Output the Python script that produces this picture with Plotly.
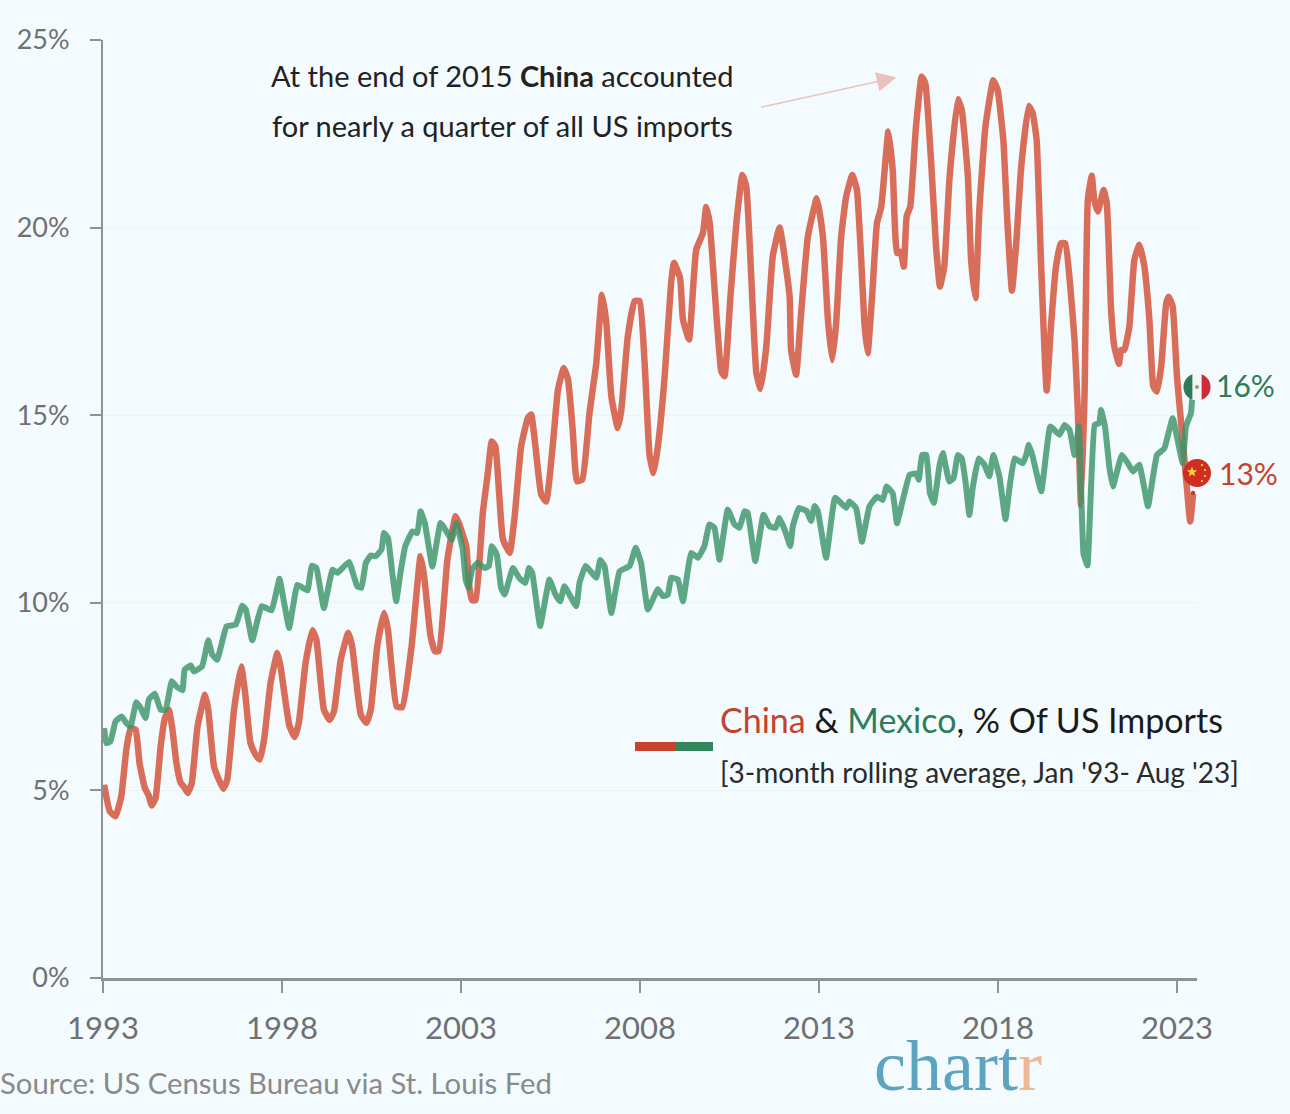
import numpy as np
import plotly.graph_objects as go

# turning points of each series (decimal year, % of US imports)
china_year = [
    1993.03, 1993.19, 1993.35, 1993.51, 1993.65, 1993.77, 1993.91, 1994.02, 1994.17, 1994.27,
    1994.36, 1994.47, 1994.61, 1994.73, 1994.84, 1994.94, 1995.05, 1995.17, 1995.26, 1995.37,
    1995.48, 1995.64, 1995.85, 1995.94, 1996.10, 1996.24, 1996.36, 1996.47, 1996.66, 1996.86,
    1996.97, 1997.12, 1997.26, 1997.38, 1997.50, 1997.68, 1997.87, 1997.96, 1998.20, 1998.35,
    1998.47, 1998.66, 1998.85, 1998.96, 1999.17, 1999.33, 1999.45, 1999.64, 1999.85, 1999.96,
    2000.20, 2000.36, 2000.48, 2000.66, 2000.85, 2000.96, 2001.20, 2001.36, 2001.62, 2001.87,
    2001.97, 2002.15, 2002.27, 2002.38, 2002.62, 2002.85, 2002.94, 2003.15, 2003.22, 2003.31,
    2003.41, 2003.61, 2003.75, 2003.86, 2003.96, 2004.06, 2004.17, 2004.36, 2004.50, 2004.68,
    2004.87, 2004.96, 2005.08, 2005.24, 2005.38, 2005.57, 2005.71, 2005.87, 2005.99, 2006.12,
    2006.24, 2006.39, 2006.59, 2006.78, 2006.94, 2007.06, 2007.20, 2007.38, 2007.48, 2007.66,
    2007.85, 2007.99, 2008.13, 2008.27, 2008.38, 2008.50, 2008.69, 2008.87, 2008.95, 2009.12,
    2009.20, 2009.37, 2009.57, 2009.76, 2009.85, 2009.95, 2010.27, 2010.36, 2010.53, 2010.70,
    2010.86, 2010.97, 2011.25, 2011.37, 2011.53, 2011.71, 2011.90, 2012.18, 2012.22, 2012.36,
    2012.50, 2012.69, 2012.94, 2013.11, 2013.25, 2013.37, 2013.48, 2013.62, 2013.76, 2013.93,
    2014.06, 2014.18, 2014.27, 2014.36, 2014.49, 2014.62, 2014.74, 2014.94, 2015.06, 2015.18,
    2015.28, 2015.37, 2015.45, 2015.55, 2015.71, 2015.87, 2015.97, 2016.13, 2016.27, 2016.38,
    2016.50, 2016.65, 2016.88, 2016.99, 2017.16, 2017.25, 2017.37, 2017.48, 2017.65, 2017.87,
    2017.99, 2018.15, 2018.27, 2018.39, 2018.51, 2018.65, 2018.86, 2018.97, 2019.08, 2019.20,
    2019.36, 2019.48, 2019.62, 2019.76, 2019.88, 2020.02, 2020.14, 2020.23, 2020.32, 2020.42,
    2020.51, 2020.62, 2020.69, 2020.79, 2020.95, 2021.04, 2021.16, 2021.25, 2021.38, 2021.44,
    2021.53, 2021.67, 2021.81, 2021.95, 2022.09, 2022.23, 2022.34, 2022.44, 2022.56, 2022.70,
    2022.77, 2022.88, 2023.00, 2023.16, 2023.25, 2023.37, 2023.45,
]
china_pct = [
    5.15, 4.44, 4.31, 4.84, 6.08, 6.66, 6.62, 5.73, 5.06, 4.88,
    4.60, 4.80, 6.17, 6.93, 7.15, 6.62, 5.73, 5.20, 5.10, 4.93,
    5.20, 6.70, 7.55, 7.15, 5.64, 5.28, 5.04, 5.28, 7.15, 8.30,
    7.60, 6.26, 5.95, 5.82, 6.35, 7.86, 8.66, 8.30, 6.75, 6.42,
    6.80, 8.40, 9.27, 9.02, 7.15, 6.88, 7.10, 8.48, 9.20, 8.84,
    7.02, 6.80, 7.15, 8.84, 9.73, 9.28, 7.24, 7.22, 8.84, 11.24,
    10.71, 9.11, 8.71, 8.71, 11.15, 12.31, 12.13, 11.50, 10.50, 10.07,
    10.07, 12.40, 13.46, 14.30, 14.17, 13.00, 11.70, 11.33, 12.31, 14.17,
    14.93, 15.02, 14.17, 12.89, 12.70, 14.26, 15.68, 16.26, 15.95, 14.62,
    13.24, 13.29, 15.06, 16.39, 18.21, 17.46, 15.50, 14.66, 15.15, 17.10,
    18.04, 18.04, 16.39, 13.91, 13.46, 14.17, 16.04, 18.53, 19.06, 18.66,
    17.55, 17.02, 19.41, 19.86, 20.55, 20.10, 16.17, 16.04, 18.20, 20.20,
    21.40, 21.10, 16.13, 15.70, 16.84, 19.24, 20.00, 18.17, 16.75, 16.08,
    17.70, 19.76, 20.78, 19.76, 17.54, 16.47, 17.45, 19.76, 20.83, 21.40,
    21.00, 19.14, 17.45, 16.65, 18.25, 20.12, 20.56, 22.56, 21.54, 19.32,
    19.36, 18.96, 20.30, 20.56, 22.69, 24.02, 23.85, 21.80, 19.50, 18.43,
    18.96, 21.36, 23.42, 23.13, 21.36, 19.14, 18.12, 20.47, 22.69, 23.93,
    23.67, 22.34, 20.03, 18.32, 19.58, 21.63, 23.24, 23.05, 22.34, 19.14,
    15.66, 17.36, 18.96, 19.58, 19.58, 18.43, 17.00, 15.14, 12.61, 15.59,
    20.74, 21.38, 20.74, 20.43, 21.00, 20.65, 17.81, 16.83, 16.37, 16.74,
    16.74, 17.36, 19.14, 19.54, 18.96, 17.54, 15.76, 15.63, 16.30, 17.98,
    18.16, 17.90, 16.03, 14.34, 13.37, 12.17, 12.90,
]
mexico_year = [
    1993.03, 1993.09, 1993.21, 1993.35, 1993.52, 1993.65, 1993.77, 1993.93, 1994.05, 1994.19,
    1994.28, 1994.45, 1994.61, 1994.75, 1994.92, 1995.05, 1995.22, 1995.28, 1995.45, 1995.54,
    1995.77, 1995.94, 1996.05, 1996.19, 1996.45, 1996.71, 1996.89, 1996.99, 1997.17, 1997.43,
    1997.71, 1997.93, 1998.06, 1998.20, 1998.43, 1998.71, 1998.83, 1998.96, 1999.17, 1999.41,
    1999.55, 1999.87, 2000.10, 2000.22, 2000.34, 2000.48, 2000.62, 2000.78, 2000.85, 2000.96,
    2001.08, 2001.19, 2001.31, 2001.44, 2001.64, 2001.78, 2001.87, 2001.99, 2002.20, 2002.43,
    2002.62, 2002.74, 2002.87, 2003.05, 2003.13, 2003.21, 2003.31, 2003.47, 2003.66, 2003.78,
    2003.86, 2004.00, 2004.12, 2004.22, 2004.45, 2004.62, 2004.80, 2004.90, 2004.99, 2005.21,
    2005.47, 2005.64, 2005.77, 2005.89, 2006.22, 2006.31, 2006.48, 2006.78, 2006.89, 2007.01,
    2007.20, 2007.43, 2007.71, 2007.88, 2008.03, 2008.22, 2008.50, 2008.64, 2008.78, 2008.87,
    2009.06, 2009.20, 2009.43, 2009.62, 2009.80, 2009.94, 2010.08, 2010.22, 2010.45, 2010.64,
    2010.78, 2010.92, 2011.01, 2011.22, 2011.45, 2011.62, 2011.79, 2011.90, 2012.04, 2012.20,
    2012.27, 2012.44, 2012.66, 2012.78, 2012.88, 2012.97, 2013.20, 2013.45, 2013.76, 2013.85,
    2014.04, 2014.20, 2014.41, 2014.62, 2014.78, 2014.89, 2015.06, 2015.18, 2015.30, 2015.53,
    2015.71, 2015.79, 2015.88, 2016.00, 2016.10, 2016.21, 2016.37, 2016.46, 2016.64, 2016.76,
    2016.88, 2016.99, 2017.11, 2017.20, 2017.30, 2017.46, 2017.62, 2017.76, 2017.87, 2018.04,
    2018.21, 2018.32, 2018.46, 2018.69, 2018.79, 2018.86, 2018.97, 2019.21, 2019.46, 2019.72,
    2019.86, 2020.00, 2020.14, 2020.26, 2020.39, 2020.50, 2020.70, 2020.83, 2020.88, 2020.99,
    2021.11, 2021.21, 2021.46, 2021.63, 2021.77, 2021.95, 2022.19, 2022.44, 2022.65, 2022.88,
    2023.16, 2023.25, 2023.39, 2023.42, 2023.45,
]
mexico_pct = [
    6.66, 6.26, 6.31, 6.84, 6.97, 6.80, 6.71, 7.35, 7.20, 6.93,
    7.42, 7.58, 7.15, 7.15, 7.91, 7.77, 7.67, 8.22, 8.33, 8.17,
    8.31, 9.00, 8.62, 8.48, 9.37, 9.42, 9.92, 9.82, 9.00, 9.91,
    9.80, 10.64, 10.00, 9.33, 10.48, 10.33, 10.99, 10.93, 9.86, 10.88,
    10.80, 11.09, 10.44, 10.40, 11.06, 11.26, 11.24, 11.42, 11.86, 11.73,
    10.80, 10.04, 10.80, 11.50, 11.90, 11.86, 12.44, 12.13, 10.97, 12.13,
    11.86, 11.68, 12.13, 11.42, 10.62, 10.40, 10.89, 11.07, 10.93, 10.98,
    11.51, 11.29, 10.40, 10.22, 10.93, 10.67, 10.53, 10.93, 10.80, 9.38,
    10.62, 10.22, 10.04, 10.44, 9.91, 10.53, 10.98, 10.67, 11.14, 10.98,
    9.73, 10.84, 10.98, 11.47, 11.07, 9.82, 10.36, 10.18, 10.22, 10.67,
    10.62, 10.04, 11.33, 11.20, 11.51, 12.09, 12.00, 11.15, 12.49, 12.09,
    12.00, 12.44, 12.40, 11.11, 12.35, 12.04, 12.00, 12.26, 11.95, 11.51,
    12.04, 12.53, 12.44, 12.18, 12.58, 12.44, 11.20, 12.80, 12.53, 12.70,
    12.52, 11.63, 12.57, 12.83, 12.74, 13.10, 12.92, 12.12, 12.57, 13.41,
    13.45, 13.28, 13.94, 13.94, 12.92, 12.66, 13.68, 13.99, 13.23, 13.32,
    13.94, 13.85, 13.10, 12.34, 13.10, 13.85, 13.68, 13.37, 13.94, 13.37,
    12.23, 13.05, 13.85, 13.72, 13.94, 14.21, 13.90, 12.97, 14.70, 14.48,
    14.74, 14.61, 13.94, 14.70, 11.30, 11.00, 14.74, 14.79, 15.14, 14.70,
    13.63, 13.10, 13.94, 13.72, 13.50, 13.68, 12.57, 13.94, 14.12, 14.92,
    13.72, 14.70, 15.05, 15.36, 15.60,
]
x_ticks = [1993, 1998, 2003, 2008, 2013, 2018, 2023]
y_ticks = [0, 5, 10, 15, 20, 25]
y_labels = ["0%", "5%", "10%", "15%", "20%", "25%"]

BG = "#F3FBFE"
GREY = "#707070"
AXIS = "#8F9294"
RED = "#C4432C"
GREEN = "#2E7D58"
FONT = "Lato"

# plot area in page pixels
L, R, T, B = 103, 1197, 40, 978


def px(x):
    return (x - L) / (R - L)


def py(y):
    return (B - y) / (B - T)


def poly(points, color):
    path = "M" + " L".join(f"{px(x):.5f},{py(y):.5f}" for x, y in points) + " Z"
    return dict(type="path", xref="paper", yref="paper", path=path,
                fillcolor=color, line_width=0, layer="above")


def disc(cx, cy, r, color, a0=0, a1=360):
    t = np.radians(np.linspace(a0, a1, 60))
    return poly(list(zip(cx + r * np.cos(t), cy + r * np.sin(t))), color)


def star(cx, cy, r, color):
    t = np.radians(np.arange(10) * 36 - 90)
    rad = np.where(np.arange(10) % 2 == 0, r, r * 0.42)
    return poly(list(zip(cx + rad * np.cos(t), cy + rad * np.sin(t))), color)


def label(x, y, text, size, color=GREY, anchor="left", font=FONT):
    return dict(xref="paper", yref="paper", x=px(x), y=py(y), text=text, showarrow=False,
                xanchor=anchor, yanchor="middle", font=dict(family=font, size=size, color=color))


fig = go.Figure()
fig.add_trace(go.Scatter(x=china_year, y=china_pct, mode="lines", opacity=0.8,
                         line=dict(color="rgb(210,76,50)", width=6.5, shape="spline", smoothing=0.4)))
fig.add_trace(go.Scatter(x=mexico_year, y=mexico_pct, mode="lines", opacity=0.8,
                         line=dict(color="rgb(58,147,103)", width=6, shape="spline", smoothing=0.3)))

shapes = [
    dict(type="rect", xref="paper", yref="paper", x0=px(635), x1=px(675), y0=py(751), y1=py(742),
         fillcolor="#C9432C", line_width=0),
    dict(type="rect", xref="paper", yref="paper", x0=px(675), x1=px(713), y0=py(751), y1=py(742),
         fillcolor="#33855C", line_width=0),
    # Mexico flag
    disc(1197, 387, 13.5, "#F4F6F5"),
    disc(1197, 387, 13.5, "#2C7A57", 110, 250),
    disc(1197, 387, 13.5, "#CE2B37", -70, 70),
    disc(1197, 387, 2, "#9A9A8A"),
    # China flag
    disc(1197, 473, 14, "#CF2F22"),
    star(1192, 472, 5.5, "#F7D23A"),
    disc(1202, 465, 1.1, "#F7D23A"),
    disc(1205, 470, 1.1, "#F7D23A"),
    disc(1205, 476, 1.1, "#F7D23A"),
    disc(1202, 481, 1.1, "#F7D23A"),
    disc(1193, 493, 2.2, "#B8402C"),
]

annotations = [
    label(502, 75, "At the end of 2015 <b>China</b> accounted", 29, "#222222", "center"),
    label(502, 126, "for nearly a quarter of all US imports", 29, "#222222", "center"),
    label(718, 719, f'<span style="color:{RED}">China</span> &amp; '
                    f'<span style="color:{GREEN}">Mexico</span>, % Of US Imports', 34, "#1A1A1A"),
    label(718, 772, "[3-month rolling average, Jan '93- Aug '23]", 28, "#2A2A2A"),
    label(1214, 385, "16%", 30, GREEN),
    label(1217, 473, "13%", 30, RED),
    label(-2, 1082, "Source: US Census Bureau via St. Louis Fed", 29.3, "#8A8A8A"),
    label(872, 1066, '<span style="color:#5CA4BF">chart</span>'
                     '<span style="color:#EDB896">r</span>', 72, font="Liberation Serif"),
    # arrow to the 2015 peak
    dict(xref="x", yref="y", axref="x", ayref="y", x=2015.16, y=24.0, ax=2011.34, ay=23.2, text="",
         showarrow=True, arrowhead=2, arrowsize=2.6, arrowwidth=1.5, arrowcolor="#E9C3BB"),
]

fig.update_layout(
    width=1290, height=1114, autosize=False, showlegend=False,
    margin=dict(l=L, r=1290 - R, t=T, b=1114 - B, pad=0),
    paper_bgcolor=BG, plot_bgcolor=BG,
    font=dict(family=FONT, color=GREY),
    shapes=shapes, annotations=annotations,
)
fig.update_xaxes(range=[1993, 2023.56], tickvals=x_ticks, tickformat="d", showgrid=False, zeroline=False,
                 showline=True, linecolor=AXIS, linewidth=2.5, ticks="outside", ticklen=12, tickwidth=1.5,
                 tickcolor=AXIS, tickfont=dict(size=31, color=GREY), ticklabelstandoff=9)
fig.update_yaxes(range=[0, 25], tickvals=y_ticks, ticktext=y_labels, showgrid=True, gridcolor="#EBF4F5", gridwidth=1,
                 zeroline=False, showline=True, linecolor=AXIS, linewidth=2, ticks="outside", ticklen=11,
                 tickwidth=1.5, tickcolor=AXIS, tickfont=dict(size=27, color=GREY), ticklabelstandoff=15)

fig.write_html("out.html", config={"displayModeBar": False},
               post_script="document.body.style.margin='0';")
